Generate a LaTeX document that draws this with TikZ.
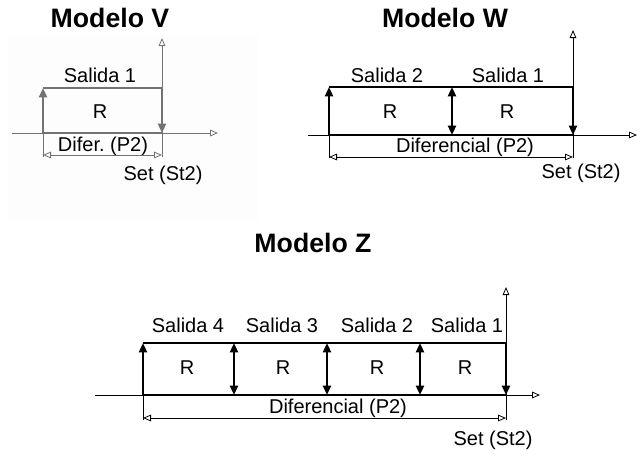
\documentclass[tikz,border=0pt]{standalone}
\usepackage{fontspec}
\setmainfont{Liberation Sans}
\usetikzlibrary{arrows.meta}
\tikzset{
  lbl/.style={inner sep=0pt, font=\fontsize{15}{17}\selectfont},
  ttl/.style={inner sep=0pt, font=\fontsize{20}{23}\selectfont\bfseries},
  axis/.style={line width=0.6pt, -{Triangle[open,length=6pt,width=5pt]}},
  dimline/.style={line width=0.6pt, {Triangle[open,length=6pt,width=5pt]}-{Triangle[open,length=6pt,width=5pt]}},
  ext/.style={line width=0.6pt},
  band/.style={line width=1.6pt},
  relup/.style={line width=1.6pt, -{Triangle[length=7pt,width=6pt]}},
  relboth/.style={line width=1.6pt, {Triangle[length=7pt,width=6pt]}-{Triangle[length=7pt,width=6pt]}}
}
\begin{document}
\begin{tikzpicture}[x=0.75pt,y=0.75pt,yscale=-1,xscale=1]
  \useasboundingbox (0,0) rectangle (642,457);
  % Modelo V
  \fill[black!0.8] (8,36) rectangle (258,220);
  \begin{scope}[draw=black!55]
    \coordinate (vA) at (43,133);  \coordinate (vB) at (162,133);
    \coordinate (vC) at (162,88);  \coordinate (vD) at (43,88);
    \draw[axis] (162,157) -- (162,38);
    \draw[axis] (12,133) -- (218,133);
    \draw[band] (vA) -- (vB);
    \draw[band] (vD) -- (vC);
    \draw[relup] (vA) -- (vD);
    \draw[relup] (vC) -- (vB);
    \draw[ext] (vA) -- (43,157);
    \draw[dimline] (43,155) -- (162,155);
  \end{scope}
  \node[ttl] (tv) at (110,18) {Modelo V};
  \node[lbl] (sv1) at (100,75) {Salida 1};
  \node[lbl] (rv) at (100,112) {R};
  \node[lbl] (dv) at (103,146) {Difer.\ (P2)};
  \node[lbl] (setv) at (163,175) {Set (St2)};
  % Modelo W
  \coordinate (wA) at (329,135);  \coordinate (wB) at (573,135);
  \coordinate (wC) at (573,87);   \coordinate (wD) at (329,87);
  \draw[axis] (573,158) -- (573,30);
  \draw[axis] (308,135) -- (637,135);
  \draw[band] (wA) -- (wB);
  \draw[band] (wD) -- (wC);
  \draw[relup] (wA) -- (wD);
  \draw[relup] (wC) -- (wB);
  \draw[relboth] (452,87) -- (452,135);
  \draw[ext] (wA) -- (329,158);
  \draw[dimline] (329,157) -- (573,157);
  \node[ttl] (tw) at (445,18) {Modelo W};
  \node[lbl] (sw2) at (387,75) {Salida 2};
  \node[lbl] (sw1) at (508,75) {Salida 1};
  \node[lbl] (rw2) at (390,112) {R};
  \node[lbl] (rw1) at (507,112) {R};
  \node[lbl] (dw) at (465,147) {Diferencial (P2)};
  \node[lbl] (setw) at (581,173) {Set (St2)};
  % Modelo Z
  \coordinate (zA) at (143,395);  \coordinate (zB) at (506,395);
  \coordinate (zC) at (506,343);  \coordinate (zD) at (143,343);
  \draw[axis] (506,420) -- (506,287);
  \draw[axis] (95,395) -- (540,395);
  \draw[band] (zA) -- (zB);
  \draw[band] (zD) -- (zC);
  \draw[relup] (zA) -- (zD);
  \draw[relup] (zC) -- (zB);
  \foreach \xx in {234,327,420}
    \draw[relboth] (\xx,343) -- (\xx,395);
  \draw[ext] (zA) -- (143,420);
  \draw[dimline] (143,418) -- (506,418);
  \node[ttl] (tz) at (313,243) {Modelo Z};
  \node[lbl] (sz4) at (188,325) {Salida 4};
  \node[lbl] (sz3) at (282,325) {Salida 3};
  \node[lbl] (sz2) at (377,325) {Salida 2};
  \node[lbl] (sz1) at (467,325) {Salida 1};
  \foreach \xx/\nm in {187/rz4,283/rz3,377/rz2,465/rz1}
    \node[lbl] (\nm) at (\xx,368) {R};
  \node[lbl] (dz) at (338,408) {Diferencial (P2)};
  \node[lbl] (setz) at (493,440) {Set (St2)};
\end{tikzpicture}
\end{document}
